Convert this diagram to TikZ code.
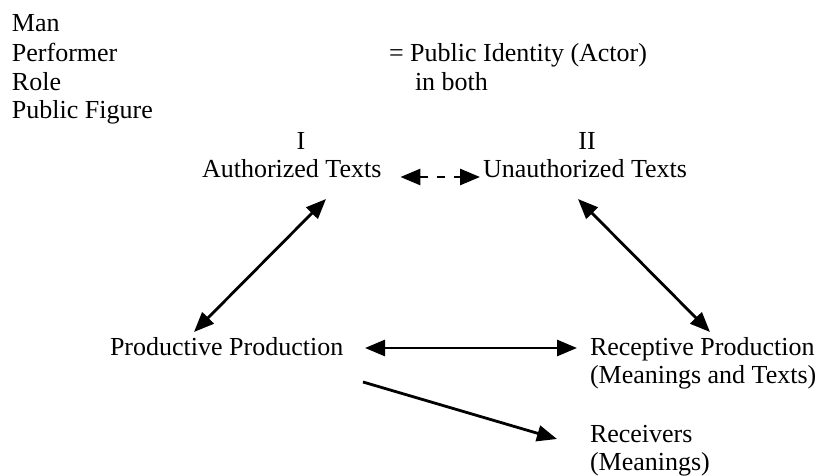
\documentclass[tikz,border=0pt]{standalone}
\usepackage{fontspec}
\setmainfont{Liberation Serif}
\usetikzlibrary{arrows.meta}

\begin{document}
\begin{tikzpicture}[x=1pt,y=-1pt,
    lbl/.style={anchor=base west,inner sep=0pt,outer sep=0pt,font=\fontsize{26pt}{29pt}\selectfont},
    num/.style={lbl,anchor=base},
    dub/.style={line width=2.8pt,{Triangle[length=20pt,width=16pt]}-{Triangle[length=20pt,width=16pt]}},
    one/.style={line width=2.8pt,-{Triangle[length=20pt,width=16pt]}}]

     \useasboundingbox (0,0) rectangle (823,476);

     %Names of the actor
     \node[lbl] (man)    at (12,32)   {Man};
     \node[lbl] (perf)   at (12,61.5) {Performer};
     \node[lbl] (role)   at (12,91)   {Role};
     \node[lbl] (pubfig) at (12,119)  {Public Figure};
     \node[lbl] (ident)  at (389,61.5) {= Public Identity (Actor)};
     \node[lbl] (both)   at (415,91)  {in both};

     %Texts I and II
     \node[num] (one)    at (301,150) {I};
     \node[num] (two)    at (587,150) {II};
     \node[lbl] (auth)   at (202,178) {Authorized Texts};
     \node[lbl] (unauth) at (483,178) {Unauthorized Texts};

     %Production
     \node[lbl] (prod)     at (110,355) {Productive Production};
     \node[lbl] (recep)    at (590,355) {Receptive Production};
     \node[lbl] (recepsub) at (590,383) {(Meanings and Texts)};
     \node[lbl] (recv)     at (590,442) {Receivers};
     \node[lbl] (recvsub)  at (590,470) {(Meanings)};

     %Arrows
     \draw[dub,dash pattern=on 8pt off 9pt] ([xshift=19pt,yshift=1pt]auth.base east) -- ([xshift=-3pt,yshift=1pt]unauth.base west);
     \draw[dub] ([xshift=124pt,yshift=-21pt]auth.base west) -- ([xshift=84pt,yshift=23pt]prod.base west);
     \draw[dub] ([xshift=95pt,yshift=-21pt]unauth.base west) -- ([xshift=120pt,yshift=23pt]recep.base west);
     \draw[dub] ([xshift=255pt,yshift=7pt]prod.base west) -- ([xshift=-13pt,yshift=7pt]recep.base west);
     \draw[one] ([xshift=253pt,yshift=-27pt]prod.base west) -- ([xshift=-33pt,yshift=3pt]recv.base west);

\end{tikzpicture}
\end{document}
